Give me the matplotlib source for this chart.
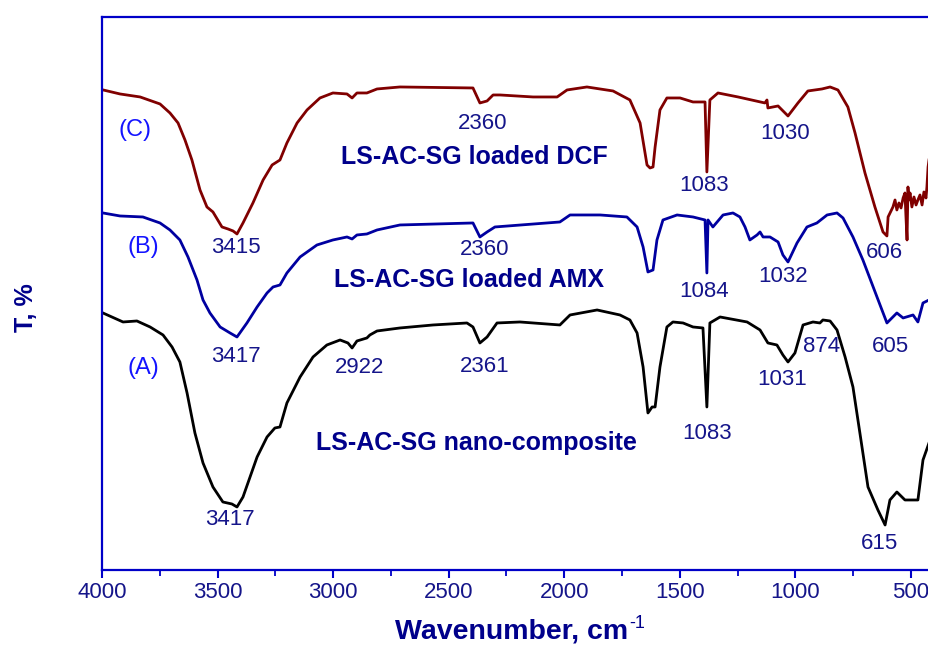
import matplotlib
matplotlib.use("Agg")
import matplotlib.pyplot as plt
from matplotlib.ticker import MultipleLocator

plt.rcParams['font.family'] = ['Liberation Sans', 'DejaVu Sans']

# --- spectra (wavenumber, cm-1 / transmittance, offset a.u.) ---
wn_c = [3995, 3922, 3835, 3749, 3706, 3671, 3641, 3611, 3576, 3546, 3520, 3481, 3455, 3433, 3416,
        3390, 3347, 3303, 3264, 3230, 3200, 3156, 3113, 3057, 3001, 2940, 2918, 2897, 2854, 2810,
        2711, 2395, 2365, 2334, 2308, 2278, 2135, 2031, 1988, 1902, 1789, 1716, 1672, 1642, 1629,
        1616, 1607, 1586, 1556, 1499, 1443, 1391, 1383, 1370, 1335, 1248, 1132, 1123, 1119, 1075,
        1032, 989, 946, 885, 850, 816, 773, 742, 699, 656, 621, 604, 599, 578, 569, 561, 552, 543,
        534, 526, 522, 517, 513, 509, 504, 496, 487, 478, 470, 461, 452, 444, 435, 431, 426, 422]
t_c = [96.0, 95.2, 94.6, 93.2, 91.4, 89.4, 86.0, 82.0, 76.0, 72.6, 71.6, 68.6, 68.2, 67.8, 67.2,
       69.4, 73.4, 78.0, 81.0, 82.0, 85.4, 89.4, 92.0, 94.4, 95.4, 95.2, 94.4, 95.4, 95.4, 96.2,
       96.6, 96.4, 93.4, 93.8, 95.0, 95.0, 94.6, 94.6, 96.0, 96.6, 95.8, 94.0, 89.4, 81.0, 80.4,
       80.6, 84.6, 92.0, 94.4, 94.4, 93.6, 93.6, 79.6, 94.0, 95.4, 94.6, 93.4, 94.0, 92.4, 92.8,
       90.8, 93.4, 95.8, 96.2, 96.6, 96.0, 92.6, 87.4, 79.4, 72.6, 67.6, 66.8, 70.6, 72.6, 74.0,
       72.0, 73.4, 72.4, 74.4, 75.4, 71.0, 66.0, 76.6, 74.0, 75.4, 72.6, 74.6, 73.0, 74.0, 75.0,
       73.0, 75.6, 74.4, 76.6, 80.6, 82.0]

wn_b = [3996, 3922, 3823, 3749, 3706, 3663, 3628, 3589, 3563, 3533, 3489, 3446, 3416, 3373, 3329,
        3286, 3260, 3230, 3200, 3143, 3070, 3001, 2940, 2918, 2897, 2854, 2810, 2711, 2395, 2365,
        2334, 2300, 2019, 1975, 1845, 1729, 1685, 1659, 1638, 1616, 1599, 1573, 1512, 1443, 1391,
        1383, 1378, 1357, 1313, 1270, 1240, 1218, 1197, 1166, 1153, 1140, 1110, 1075, 1054, 1032,
        993, 950, 907, 863, 820, 794, 751, 708, 647, 604, 561, 534, 491, 470, 448, 422]
t_b = [71.4, 70.8, 70.6, 69.4, 68.0, 66.0, 62.6, 58.0, 54.0, 51.4, 48.6, 47.4, 46.6, 49.4, 52.6,
       55.4, 56.6, 57.0, 59.4, 62.6, 65.0, 66.0, 66.6, 66.2, 67.0, 67.2, 68.0, 69.0, 69.4, 66.6,
       67.6, 68.6, 69.6, 71.0, 71.0, 70.6, 68.6, 64.6, 59.6, 60.0, 66.0, 70.0, 71.0, 70.6, 70.0,
       59.4, 70.0, 68.6, 71.0, 71.4, 70.6, 68.6, 66.0, 67.0, 67.6, 66.6, 66.6, 65.6, 63.0, 61.6,
       65.4, 68.6, 69.4, 71.0, 71.4, 70.4, 66.6, 62.0, 54.6, 49.4, 51.4, 50.4, 51.0, 49.6, 53.4, 54.0]

wn_a = [3996, 3909, 3849, 3792, 3736, 3697, 3663, 3632, 3598, 3563, 3520, 3477, 3438, 3416, 3390,
        3329, 3286, 3252, 3230, 3200, 3143, 3087, 3027, 2970, 2936, 2918, 2897, 2854, 2841, 2810,
        2711, 2568, 2421, 2395, 2365, 2334, 2291, 2192, 2019, 1975, 1858, 1759, 1716, 1685, 1659,
        1638, 1620, 1607, 1586, 1556, 1530, 1486, 1443, 1400, 1383, 1370, 1326, 1209, 1153, 1119,
        1080, 1054, 1032, 1002, 967, 924, 894, 881, 850, 820, 785, 751, 721, 686, 643, 612, 591,
        561, 526, 470, 448, 422]
t_a = [51.4, 49.6, 49.8, 48.6, 47.0, 44.6, 41.6, 35.4, 27.4, 21.4, 16.6, 13.6, 13.2, 12.6, 14.6,
       22.6, 26.6, 28.4, 28.6, 33.4, 38.6, 42.6, 45.0, 46.0, 45.4, 44.4, 45.8, 46.4, 47.0, 47.8,
       48.4, 49.0, 49.4, 48.6, 45.4, 46.6, 49.4, 49.6, 49.0, 51.0, 52.0, 51.0, 50.0, 47.4, 40.6,
       31.4, 32.6, 32.6, 40.6, 48.6, 49.6, 49.4, 48.6, 48.4, 32.6, 49.4, 50.6, 49.6, 48.0, 45.4,
       45.0, 43.0, 41.6, 43.4, 49.0, 49.6, 49.4, 50.0, 49.8, 48.0, 42.6, 36.6, 27.4, 16.6, 12.0,
       9.0, 14.0, 15.6, 14.0, 14.0, 22.0, 25.4]

# peak labels: (text, wavenumber, T)
peak_labels = [("3415", 3420, 64.4), ("2360", 2352, 89.2), ("1083", 1396, 76.8), ("1030", 1045, 87.2),
               ("606", 613, 63.4),
               ("3417", 3420, 42.6), ("2360", 2343, 64.0), ("1084", 1396, 55.6), ("1032", 1054, 58.6),
               ("605", 591, 44.6),
               ("3417", 3446, 10.0), ("2922", 2884, 40.4), ("2361", 2343, 40.6), ("1083", 1383, 27.2),
               ("1031", 1058, 38.0), ("874", 885, 44.6), ("615", 634, 5.2)]
curve_tags = [("(C)", 3857, 88.0), ("(B)", 3823, 64.6), ("(A)", 3823, 40.4)]
sample_names = [("LS-AC-SG loaded DCF", 2391, 82.6), ("LS-AC-SG loaded AMX", 2412, 58.0),
                ("LS-AC-SG nano-composite", 2378, 25.4)]

axis_col = '#0000c8'
num_col = '#15158a'
title_col = '#00008b'

fig = plt.figure(figsize=(9.29, 6.5), dpi=100)
ax = fig.add_axes([0.1098, 0.1231, 0.8902, 0.8508])

ax.plot(wn_c, t_c, color='#800000', lw=2.0)
ax.plot(wn_b, t_b, color='#0000a0', lw=2.0)
ax.plot(wn_a, t_a, color='black', lw=2.0)

for txt, x, y in peak_labels:
    ax.text(x, y, txt, color=num_col, fontsize=16, ha='center', va='center')
for txt, x, y in curve_tags:
    ax.text(x, y, txt, color='#1414ff', fontsize=17, ha='center', va='center')
for txt, x, y in sample_names:
    ax.text(x, y, txt, color=title_col, fontsize=18, fontweight='bold', ha='center', va='center')

ax.set_xlim(4000, 422)
ax.set_ylim(0, 110.6)
ax.xaxis.set_major_locator(MultipleLocator(500))
ax.xaxis.set_minor_locator(MultipleLocator(250))
ax.set_yticks([])

for side in ['left', 'bottom', 'top']:
    ax.spines[side].set_color(axis_col)
    ax.spines[side].set_linewidth(1.6)
ax.spines['right'].set_visible(False)

ax.tick_params(axis='x', which='major', direction='out', length=6, width=1.5, color=axis_col,
               labelsize=16, labelcolor=num_col, pad=3)
ax.tick_params(axis='x', which='minor', direction='out', length=4, width=1.3, color=axis_col)

ax.set_xlabel('Wavenumber, cm', fontsize=20.5, fontweight='bold', color=title_col)
ax.xaxis.set_label_coords(0.495, -0.112)
ax.xaxis.label.set_va('center')
ax.annotate('-1', xy=(1, 1), xycoords=ax.xaxis.label, xytext=(1, -3), textcoords='offset points',
            fontsize=13, color=title_col, ha='left', va='center')

ax.set_ylabel('T, %', fontsize=18, fontweight='bold', color=title_col, va='center')
ax.yaxis.set_label_coords(-0.092, 0.474)

fig.savefig('out.png', dpi=100)
